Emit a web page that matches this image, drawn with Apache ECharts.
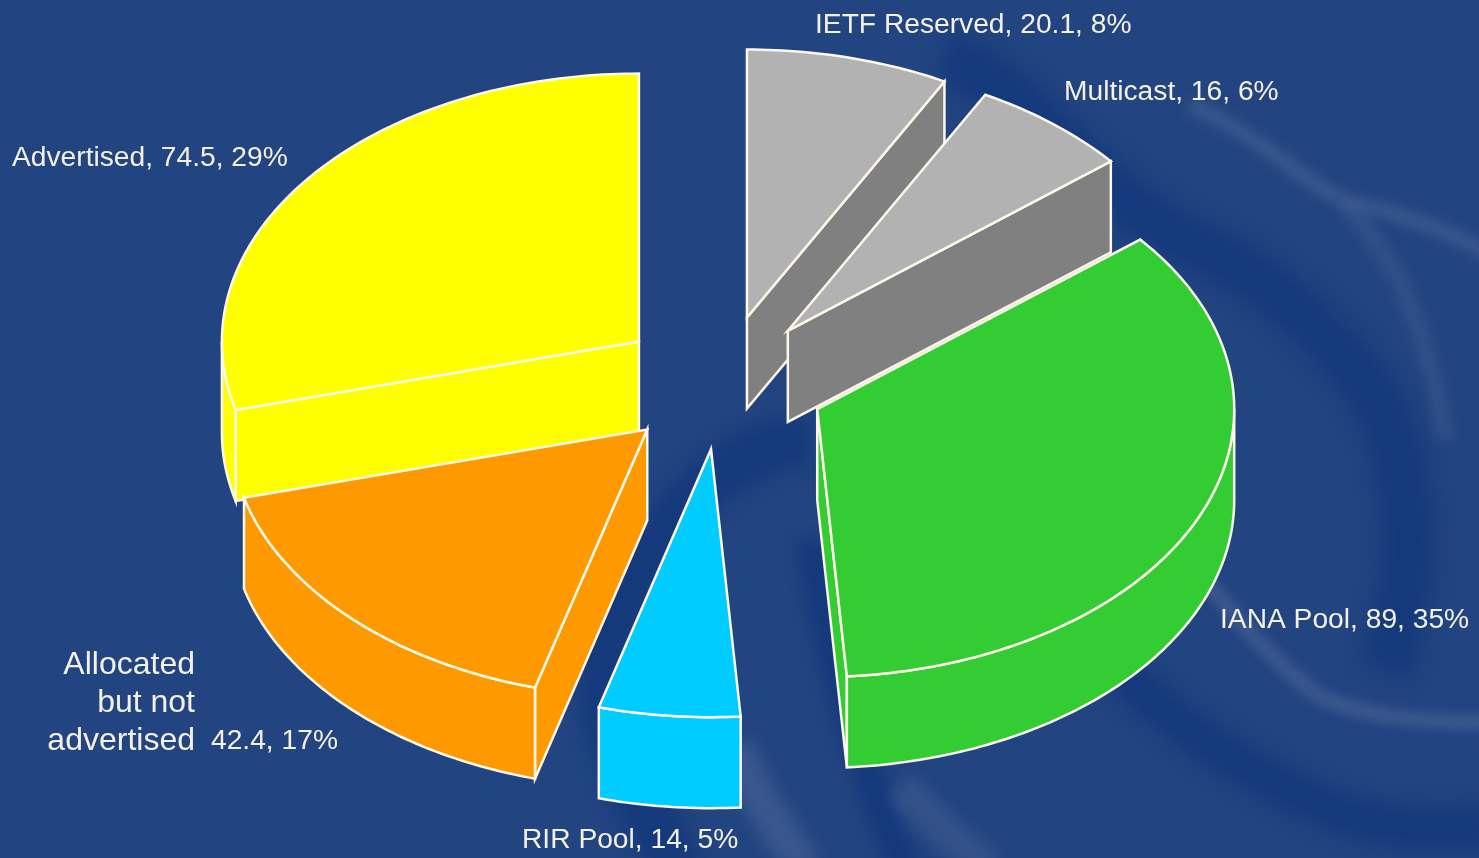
<!DOCTYPE html>
<html>
<head>
<meta charset="utf-8">
<style>html,body{margin:0;padding:0;background:#224480}#main{width:1479px;height:858px}</style>
<script src="https://cdn.jsdelivr.net/npm/echarts@6/dist/echarts.min.js"></script>
</head>
<body>
<div id="main"></div>
<script>
// clockwise from 12 o'clock
const categories = ['IETF Reserved', 'Multicast', 'IANA Pool', 'RIR Pool', 'Allocated\nbut not\nadvertised', 'Advertised'];
const values = [20.1, 16, 89, 14, 42.4, 74.5];

const topColors = ['#b2b2b2', '#b2b2b2', '#33cc33', '#00ccff', '#ff9900', '#ffff00'];
const wallColors = ['#808080', '#808080', '#33cc33', '#00ccff', '#ff9900', '#ffff00'];
const labelSpots = [[815, 25], [1064, 92], [1220, 620], [522, 840], [211, 741], [12, 158]];
// painter's order, back slices first
const drawOrder = [0, 1, 5, 4, 3, 2];

const cx = 721.5, cy = 382.5, rx = 417, ry = 268, depth = 91, explode = 0.25;
const edge = '#fdf8e8', textColor = '#f4f1e2', font = '"Liberation Sans", Arial, sans-serif', fontSize = 28.2;

const total = values.reduce((a, b) => a + b, 0);
let running = 0;
const slices = values.map(v => {
    const start = running / total * 360;
    running += v;
    return { start: start, end: running / total * 360 };
});

function rad(d) { return d * Math.PI / 180; }

function arcPoints(ox, oy, from, to) {
    let pts = [];
    let n = Math.max(2, Math.ceil(Math.abs(to - from)));
    for (let i = 0; i <= n; i++) {
        let t = rad(from + (to - from) * i / n);
        pts.push([ox + rx * Math.sin(t), oy - ry * Math.cos(t)]);
    }
    return pts;
}

function face(points, fill) {
    return {
        type: 'polygon',
        shape: { points: points },
        style: { fill: fill, stroke: edge, lineWidth: 2.5, lineJoin: 'miter' }
    };
}

function lowered(points) {
    return points.map(p => [p[0], p[1] + depth]).reverse();
}

function renderSlice(params, api) {
    let i = api.value(0);
    let s = slices[i];
    let mid = rad((s.start + s.end) / 2);
    let ox = cx + explode * rx * Math.sin(mid);
    let oy = cy - explode * ry * Math.cos(mid);
    let children = [];

    // cut faces, only those turned to the viewer
    if (Math.sin(rad(s.start)) < -1e-6) {
        let cut = [[ox, oy], arcPoints(ox, oy, s.start, s.start)[0]];
        children.push(face(cut.concat(lowered(cut)), wallColors[i]));
    }
    if (Math.sin(rad(s.end)) > 1e-6) {
        let cut = [[ox, oy], arcPoints(ox, oy, s.end, s.end)[0]];
        children.push(face(cut.concat(lowered(cut)), wallColors[i]));
    }
    // outer wall, front half of the ellipse
    let a = Math.max(s.start, 90), b = Math.min(s.end, 270);
    if (b > a) {
        let rim = arcPoints(ox, oy, a, b);
        children.push(face(rim.concat(lowered(rim)), wallColors[i]));
    }
    children.push(face([[ox, oy]].concat(arcPoints(ox, oy, s.start, s.end)), topColors[i]));

    // label
    let pct = Math.round(values[i] / total * 100);
    let lines = categories[i].split('\n');
    let spot = labelSpots[i];
    let labelStyle = { fill: textColor, font: fontSize + 'px ' + font, verticalAlign: 'middle' };
    if (lines.length > 1) {
        children.push({
            type: 'text',
            style: Object.assign({}, labelStyle, {
                x: spot[0] - 16, y: spot[1] - 38, text: categories[i], align: 'right', lineHeight: 38,
                font: '32px ' + font
            })
        });
        children.push({
            type: 'text',
            style: Object.assign({}, labelStyle, { x: spot[0], y: spot[1], text: values[i] + ', ' + pct + '%', align: 'left' })
        });
    } else {
        children.push({
            type: 'text',
            style: Object.assign({}, labelStyle, { x: spot[0], y: spot[1], text: lines[0] + ', ' + values[i] + ', ' + pct + '%', align: 'left' })
        });
    }
    return { type: 'group', children: children };
}

// background swirl: the stroke sits off the canvas, only its blurred shadow lands on it
function swirl(path, color, width, blur) {
    return {
        type: 'path',
        x: -3000,
        shape: { pathData: path },
        style: {
            fill: 'none', stroke: '#000', lineWidth: width, lineCap: 'butt',
            shadowBlur: blur, shadowColor: color, shadowOffsetX: 3000
        }
    };
}

const darkBand = 'rgba(14,52,122,0.6)', lightBand = 'rgba(82,108,156,0.5)';
const backdrop = [
    swirl('M 945 60 C 1010 70 1090 190 1183 240 C 1270 275 1340 340 1383 410 C 1415 490 1415 590 1385 670', darkBand, 52, 20),
    swirl('M 1120 670 C 1170 720 1230 765 1333 810 C 1380 828 1430 832 1490 826', darkBand, 42, 18),
    swirl('M 810 440 C 720 445 650 530 607 640 C 595 710 630 790 680 870', darkBand, 52, 18),
    swirl('M 812 540 C 825 640 850 740 905 870', darkBand, 30, 14),
    swirl('M 1175 540 C 1210 590 1270 660 1320 697 C 1360 715 1420 723 1490 722', lightBand, 16, 10),
    swirl('M 1190 105 C 1260 135 1300 180 1343 200 C 1390 212 1440 225 1490 255', lightBand, 15, 12),
    swirl('M 1345 205 C 1400 260 1430 340 1445 440', 'rgba(82,108,156,0.3)', 18, 12),
    swirl('M 735 745 C 750 790 780 830 805 870', lightBand, 36, 16),
    swirl('M 900 785 C 930 820 960 845 990 870', 'rgba(82,108,156,0.35)', 34, 14)
];

let chart = echarts.init(document.getElementById('main'));
chart.setOption({
    backgroundColor: '#224480',
    animation: false,
    series: [{
        type: 'custom',
        coordinateSystem: 'none',
        z: 1,
        silent: true,
        renderItem: () => ({ type: 'group', children: backdrop }),
        data: [[0]]
    }, {
        type: 'custom',
        coordinateSystem: 'none',
        z: 5,
        silent: true,
        renderItem: renderSlice,
        data: drawOrder.map(i => [i, values[i]])
    }]
});
</script>
</body>
</html>
